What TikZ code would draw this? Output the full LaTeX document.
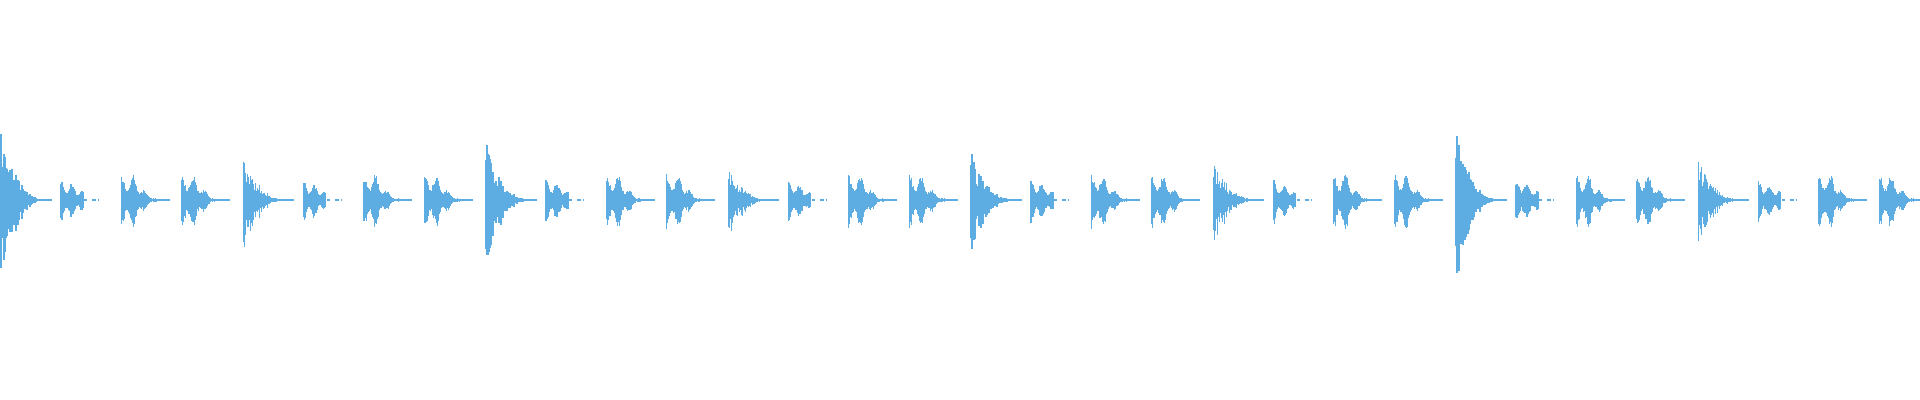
\documentclass[tikz,border=0pt]{standalone}
\usepackage{xcolor}
\usepackage{tikz}
\definecolor{wavecol}{RGB}{93,173,226}
\begin{document}
\begin{tikzpicture}[x=0.01cm, y=0.01cm]
    \tikzset{wave/.style={draw=wavecol, line width=0.3pt}}
    \useasboundingbox (0,0) rectangle (1920,400);
    \pgfmathsetseed{7}
    % 8 groups: one big hit, then three smaller ones
    \foreach \g/\amp in {0/71, 1/46, 2/59, 3/32, 4/49, 5/43, 6/71, 7/40}{
        \pgfmathsetmacro{\xa}{\g*242.5}
        % big decaying hit
        \foreach \k in {0,...,50}{
            \pgfmathsetmacro{\e}{(1-\k/52)^3}
            \pgfmathsetmacro{\h}{max(0.8,\amp*\e*(0.4+0.6*rnd))}
            \pgfmathsetmacro{\dn}{\h*(1+0.3*rnd)}
            \draw[wave] (\xa+\k+1,200+\h) -- (\xa+\k+1,200-\dn);
        }
        % short two-hump hit with dots
        \pgfmathsetmacro{\xb}{\xa+61}
        \foreach \k in {0,...,22}{
            \pgfmathsetmacro{\h}{max(0.8,22*(0.7+0.3*cos(\k*32.7))*(1-\k/26)^0.5*(0.7+0.3*rnd))}
            \pgfmathsetmacro{\dn}{\h*(1+0.2*rnd)}
            \draw[wave] (\xb+\k,200+\h) -- (\xb+\k,200-\dn);
        }
        \draw[wave] (\xb+23,200) -- (\xb+26,200);
        \draw[wave] (\xb+31,200) -- (\xb+35,200);
        \draw[wave] (\xb+37,200) -- (\xb+38,200);
        % two hits with tails
        \foreach \c in {1,2}{
            \pgfmathsetmacro{\xc}{\xa+60.6*(\c+1)}
            \foreach \k in {0,...,48}{
                \pgfmathsetmacro{\tl}{\k<14 ? 1 : (1-(\k-14)/35)^3}
                \pgfmathsetmacro{\h}{max(0.8,26*\tl*(0.72+0.28*cos(\k*30))*(0.7+0.3*rnd))}
                \pgfmathsetmacro{\dn}{\h*(1+0.2*rnd)}
                \draw[wave] (\xc+\k,200+\h) -- (\xc+\k,200-\dn);
            }
        }
    }
\end{tikzpicture}
\end{document}
